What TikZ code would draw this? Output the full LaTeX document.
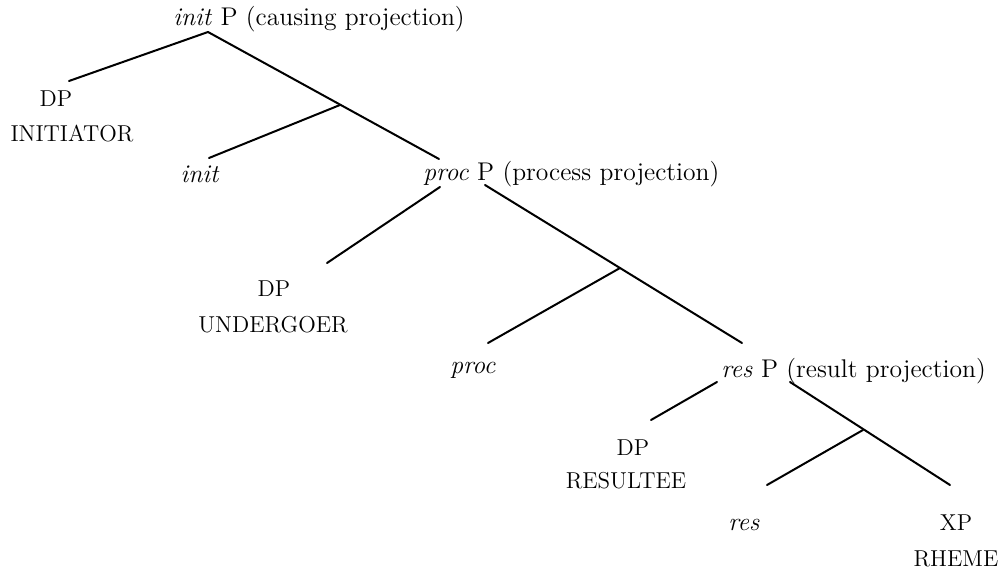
\documentclass[tikz,border=0pt]{standalone}
\usepackage{fontspec}
\begin{document}
\begin{tikzpicture}[x=0.5pt,y=-0.5pt,
  mix/.style={inner sep=0pt, font=\fontsize{12.8}{15}\selectfont},
  capl/.style={inner sep=0pt, font=\fontsize{11.5}{14}\selectfont},
  branch/.style={line width=1pt, line cap=round}]
\useasboundingbox (0,0) rectangle (1006,571);
% labels
\node[mix, anchor=base west] (initP) at (173,26) {\textit{init} P (causing projection)};
\node[capl, anchor=base] (dp1) at (56,107) {DP};
\node[capl, anchor=base] (initiator) at (72,142) {INITIATOR};
\node[mix, anchor=base] (init) at (200,183) {\textit{init}};
\node[mix, anchor=base west] (procP) at (423,181) {\textit{proc} P (process projection)};
\node[capl, anchor=base] (dp2) at (274,297) {DP};
\node[capl, anchor=base] (undergoer) at (273,333) {UNDERGOER};
\node[mix, anchor=base] (proc) at (473,373) {\textit{proc}};
\node[mix, anchor=base west] (resP) at (721,378) {\textit{res} P (result projection)};
\node[capl, anchor=base] (dp3) at (633,455) {DP};
\node[capl, anchor=base] (resultee) at (626,488) {RESULTEE};
\node[mix, anchor=base] (res) at (744,530) {\textit{res}};
\node[capl, anchor=base] (xp) at (956,530) {XP};
\node[capl, anchor=base] (rheme) at (956,566) {RHEME};
% connector end points
\coordinate (iP) at (208,32);
\coordinate (dp1t) at (69,81);
\coordinate (ib) at (340,105);
\coordinate (pPt) at (439,159);
\coordinate (initt) at (209,158);
\coordinate (pPl) at (440,187);
\coordinate (dp2t) at (327,263);
\coordinate (pPr) at (485,185);
\coordinate (pb) at (620,268);
\coordinate (rPt) at (742,343);
\coordinate (proct) at (488,343);
\coordinate (rPl) at (717,382);
\coordinate (dp3t) at (651,420);
\coordinate (rPr) at (790,382);
\coordinate (rb) at (863,430);
\coordinate (xpt) at (950,485);
\coordinate (rest) at (767,485);
% branches
\draw[branch] (iP) -- (dp1t);
\draw[branch] (iP) -- (pPt);
\draw[branch] (ib) -- (initt);
\draw[branch] (pPl) -- (dp2t);
\draw[branch] (pPr) -- (rPt);
\draw[branch] (pb) -- (proct);
\draw[branch] (rPl) -- (dp3t);
\draw[branch] (rPr) -- (xpt);
\draw[branch] (rb) -- (rest);
\end{tikzpicture}
\end{document}
